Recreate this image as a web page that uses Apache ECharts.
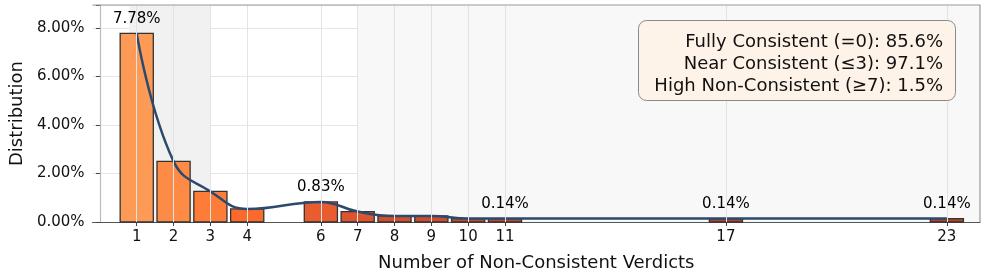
<!DOCTYPE html>
<html>
<head>
<meta charset="utf-8">
<script src="https://cdn.jsdelivr.net/npm/echarts@6/dist/echarts.min.js"></script>
<style>html,body{margin:0;padding:0;background:#fff}#c{width:986px;height:278px}</style>
</head>
<body>
<div id="c"></div>
<script>
// Data
var verdicts = [1, 2, 3, 4, 6, 7, 8, 9, 10, 11, 17, 23];
var distribution = [7.78, 2.50, 1.26, 0.54, 0.83, 0.43, 0.25, 0.25, 0.14, 0.14, 0.14, 0.14];
var labeledVerdicts = [1, 6, 11, 17, 23];
var yTicks = [0, 2, 4, 6, 8];
var summaryLines = [
  'Fully Consistent (=0): 85.6%',
  'Near Consistent (\u22643): 97.1%',
  'High Non-Consistent (\u22657): 1.5%'
];
// Styles
var barColors = ['#fd9a56', '#fd8a45', '#fc7c38', '#fb6a2a', '#e85c30', '#dc5530', '#d44e28', '#d04c28', '#cc4828', '#c84628', '#c0402a', '#bc3e28'];
var FONT = 'DejaVu Sans';
var X_MIN = -0.2, X_MAX = 23.9, Y_MAX = 8.95;

var chart = echarts.init(document.getElementById('c'), null, {renderer: 'canvas'});

var barData = verdicts.map(function (v, i) { return [v, distribution[i]]; });

var option = {
  animation: false,
  grid: {left: 89, right: 6, top: 5, bottom: 56, containLabel: false},
  xAxis: {
    type: 'value', min: X_MIN, max: X_MAX,
    name: 'Number of Non-Consistent Verdicts', nameLocation: 'middle', nameGap: 32,
    nameTextStyle: {fontFamily: FONT, fontSize: 18, color: '#111'},
    axisLine: {show: true, onZero: false, lineStyle: {color: '#555', width: 1.2}},
    axisTick: {show: true, customValues: verdicts, length: 4, lineStyle: {color: '#444'}},
    axisLabel: {customValues: verdicts, fontFamily: FONT, fontSize: 15, color: '#111', margin: 8},
    splitLine: {show: false}
  },
  yAxis: {
    type: 'value', min: 0, max: Y_MAX, interval: 2,
    name: 'Distribution', nameLocation: 'middle', nameGap: 66,
    nameTextStyle: {fontFamily: FONT, fontSize: 18, color: '#111'},
    axisLine: {show: true, lineStyle: {color: '#bbb', width: 1.2}},
    axisTick: {show: true, length: 4, lineStyle: {color: '#444'}},
    axisLabel: {fontFamily: FONT, fontSize: 15, color: '#111', margin: 8,
      customValues: yTicks,
      formatter: function (v) { return v.toFixed(2) + '%'; }},
    splitLine: {show: true, lineStyle: {color: '#e6e6e6', width: 1}}
  },
  series: [
    {
      type: 'line', data: [], silent: true, z: 0,
      markArea: {
        silent: true,
        data: [
          [{xAxis: 0.8, itemStyle: {color: '#f1f1f1'}}, {xAxis: 3}],
          [{xAxis: 7, itemStyle: {color: '#f8f8f8'}}, {xAxis: X_MAX}]
        ]
      },
      markLine: {
        silent: true, symbol: 'none', label: {show: false},
        lineStyle: {color: '#e3e3e3', width: 1, type: 'solid'},
        data: verdicts.map(function (v) { return {xAxis: v}; })
      }
    },
    {
      type: 'custom', z: 2,
      data: barData,
      renderItem: function (params, api) {
        var x = api.value(0), y = api.value(1);
        var p1 = api.coord([x - 0.45, y]);
        var p2 = api.coord([x + 0.45, 0]);
        var children = [{
          type: 'rect',
          shape: {x: p1[0], y: p1[1], width: p2[0] - p1[0], height: p2[1] - p1[1]},
          style: {fill: barColors[params.dataIndex], stroke: '#333', lineWidth: 1.3}
        }];
        if (labeledVerdicts.indexOf(x) >= 0) {
          var c = api.coord([x, y]);
          children.push({
            type: 'text', z2: 50,
            x: c[0], y: c[1] - 7,
            style: {text: y.toFixed(2) + '%', fill: '#000', align: 'center', verticalAlign: 'bottom',
              font: '15px "DejaVu Sans"'}
          });
        }
        return {type: 'group', children: children};
      }
    },
    {
      type: 'line', z: 3, smooth: 0.45, symbol: 'none',
      data: barData,
      lineStyle: {color: '#2b4a6d', width: 2.5}
    }
  ]
};
chart.setOption(option);

var tl = chart.convertToPixel({gridIndex: 0}, [X_MIN, Y_MAX]);
var br = chart.convertToPixel({gridIndex: 0}, [X_MAX, 0]);
chart.setOption({
  graphic: [
    {type: 'polyline', z: 5, silent: true,
     shape: {points: [[tl[0], tl[1]], [br[0], tl[1]], [br[0], br[1]]]},
     style: {stroke: '#999', lineWidth: 1.2, fill: null}},
    {
      type: 'rect', z: 10,
      shape: {x: 638.5, y: 20.5, width: 317, height: 80, r: 8},
      style: {fill: '#fef3e8', stroke: '#8a8a8a', lineWidth: 1}
    },
    {
      type: 'text', z: 11, x: 943, y: 31,
      style: {
        text: summaryLines.join('\n'),
        font: '18px "DejaVu Sans"', lineHeight: 22,
        fill: '#111', align: 'right', verticalAlign: 'top'
      }
    }
  ]
});
</script>
</body>
</html>
